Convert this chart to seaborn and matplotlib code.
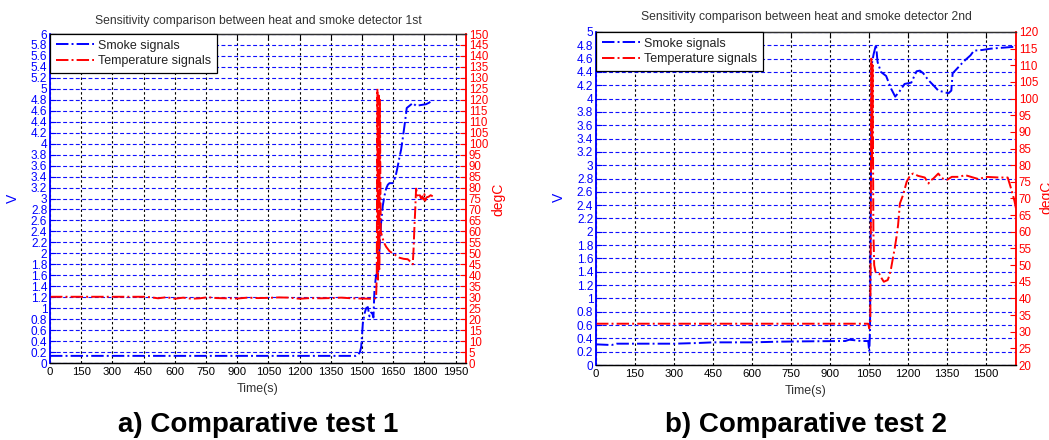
import numpy as np
import pandas as pd
import matplotlib
matplotlib.use("Agg")
import matplotlib.pyplot as plt
from matplotlib import font_manager
from matplotlib.ticker import FuncFormatter, FixedLocator
import seaborn as sns

# ---------------- data: panel a (test 1) ----------------
smoke1_t = [0, 150, 300, 450, 600, 750, 900, 1050, 1200, 1350, 1470, 1482, 1490, 1496,
            1504, 1512, 1520, 1528, 1536, 1544, 1549, 1555, 1560, 1568, 1576, 1584,
            1592, 1600, 1608, 1616, 1624, 1632, 1648, 1656, 1664, 1672, 1680, 1688,
            1696, 1704, 1712, 1715, 1728, 1744, 1760, 1776, 1792, 1808, 1824, 1837]
smoke1_v = [0.13, 0.13, 0.13, 0.13, 0.13, 0.13, 0.13, 0.13, 0.13, 0.13, 0.13, 0.15, 0.2, 0.29,
            0.72, 0.9, 1.0, 1.02, 0.85, 0.92, 0.91, 0.83, 1.34, 1.61, 1.52, 2.07,
            2.56, 2.87, 3.05, 3.18, 3.25, 3.28, 3.28, 3.35, 3.45, 3.59, 3.75, 3.89,
            4.1, 4.32, 4.55, 4.65, 4.69, 4.74, 4.69, 4.7, 4.71, 4.72, 4.75, 4.8]

temp1_t = [0, 150, 300, 450, 480, 520, 560, 600, 640, 680, 720, 760, 800, 850, 900, 950,
           1000, 1050, 1100, 1150, 1200, 1250, 1300, 1350, 1400, 1450, 1500, 1540, 1565,
           1568, 1571, 1574, 1577, 1580, 1583, 1586, 1590, 1596, 1605, 1616, 1632, 1648,
           1664, 1680, 1700, 1720, 1735, 1744, 1748, 1752, 1756, 1760, 1766, 1772, 1778,
           1784, 1790, 1796, 1800, 1804, 1810, 1820, 1830, 1840]
temp1_c = [30.2, 30.2, 30.2, 30.2, 30.0, 29.5, 30.0, 29.3, 29.8, 29.3, 29.5, 30.0, 29.6, 29.5,
           29.4, 29.8, 29.6, 29.7, 29.9, 29.8, 29.3, 29.6, 29.5, 29.6, 29.8, 29.5, 29.4, 29.3,
           29.5, 30.5, 40, 125, 38, 122, 42, 120, 60, 58, 55, 53, 51, 50,
           49, 48, 47.5, 47.3, 46, 45, 52, 62, 70, 79.5, 77, 75.5, 76.5,
           75, 76, 74.5, 77, 74, 75.5, 75.8, 76.5, 76]

# ---------------- data: panel b (test 2) ----------------
smoke2_t = [0, 60, 80, 150, 300, 390, 450, 600, 700, 800, 960, 975, 1000, 1020, 1048, 1052,
            1055, 1058, 1061, 1069, 1078, 1084, 1097, 1117, 1136, 1152, 1169, 1188, 1214,
            1234, 1247, 1260, 1279, 1299, 1318, 1338, 1357, 1368, 1373, 1390, 1409, 1422,
            1442, 1455, 1487, 1520, 1552, 1585, 1617]
smoke2_v = [0.31, 0.30, 0.32, 0.32, 0.32, 0.33, 0.34, 0.34, 0.35, 0.355, 0.36, 0.38, 0.37,
            0.36, 0.36, 0.2, 0.5, 2.5, 4.5, 4.67, 4.81, 4.55, 4.4, 4.34, 4.15, 4.03, 4.11,
            4.22, 4.24, 4.41, 4.42, 4.38, 4.28, 4.2, 4.12, 4.1, 4.08, 4.12, 4.38, 4.45,
            4.53, 4.58, 4.65, 4.72, 4.73, 4.75, 4.76, 4.77, 4.78]

temp2_t = [0, 150, 300, 450, 600, 750, 900, 1040, 1048, 1052, 1056, 1058, 1060, 1063, 1065,
           1068, 1071, 1076, 1090, 1100, 1108, 1123, 1130, 1136, 1144, 1150, 1157, 1163,
           1170, 1182, 1196, 1210, 1221, 1240, 1266, 1280, 1286, 1299, 1318, 1331, 1351,
           1370, 1396, 1422, 1474, 1500, 1552, 1585, 1598, 1611, 1617]
temp2_c = [32.4, 32.4, 32.4, 32.4, 32.4, 32.4, 32.4, 32.4, 32.4, 31, 33, 60, 112, 80, 110,
           60, 50, 48, 47.5, 46, 45, 45.5, 47, 49, 52.5, 55, 58.5, 62,
           68.5, 71, 75, 77, 77.5, 76.8, 76.3, 74.5, 75.3, 76, 77.5, 76.1, 75.6,
           76.5, 76.5, 77, 75.8, 76.5, 76.3, 76.3, 73, 69.3, 67]

# ---------------- text ----------------
titles = ["Sensitivity comparison between heat and smoke detector 1st",
          "Sensitivity comparison between heat and smoke detector 2nd"]
captions = ["a) Comparative test 1", "b) Comparative test 2"]
legend_labels = ["Smoke signals", "Temperature signals"]
xlabel_text = "Time(s)"
ylabel_left = "V"
ylabel_right = "degC"

xticks1 = list(range(0, 1951, 150))
yticks1_left = [round(v * 0.2, 1) for v in range(0, 31)]
yticks1_right = list(range(0, 151, 5))
xticks2 = list(range(0, 1501, 150))
yticks2_left = [round(v * 0.2, 1) for v in range(0, 26)]
yticks2_right = list(range(20, 121, 5))

# ---------------- style ----------------
sns.set_style("white")
plt.rcParams['font.family'] = ['Liberation Sans', 'DejaVu Sans']

W, H = 1049, 440
fig = plt.figure(figsize=(W / 100, H / 100), dpi=100)


def rect(l, t, r, b):
    return [l / W, 1 - b / H, (r - l) / W, (b - t) / H]


fmt = FuncFormatter(lambda v, p: "%g" % round(v, 2))


def panel(box, st, sv, tt, tc, xlim, xt, yl1, yt1, yl2, yt2,
          title, title_y, caption, v_xy, deg_xy, time_y):
    l, t, r, b = box
    ax1 = fig.add_axes(rect(l, t, r, b))
    ax2 = ax1.twinx()
    sns.lineplot(x=st, y=sv, ax=ax1, color="blue", linewidth=1.4, linestyle="-.",
                 sort=False, estimator=None, legend=False, label=legend_labels[0])
    sns.lineplot(x=tt, y=tc, ax=ax2, color="red", linewidth=1.4, linestyle="-.",
                 sort=False, estimator=None, legend=False, label=legend_labels[1])
    ax1.set_xlim(*xlim)
    ax1.set_ylim(*yl1)
    ax2.set_ylim(*yl2)
    ax1.xaxis.set_major_locator(FixedLocator(xt))
    ax1.yaxis.set_major_locator(FixedLocator(yt1))
    ax2.yaxis.set_major_locator(FixedLocator(yt2))
    for a in (ax1, ax2):
        a.yaxis.set_major_formatter(fmt)
        a.set_xlabel("")
        a.set_ylabel("")
    ax1.xaxis.set_major_formatter(fmt)
    ax1.set_axisbelow(True)
    ax1.grid(True, axis="y", color="#1010ff", linestyle=(0, (3.5, 2.2)), linewidth=0.8)
    ax1.grid(True, axis="x", color="black", linestyle=(0, (2.2, 2.2)), linewidth=0.8)
    ax1.tick_params(axis="x", direction="in", length=4, width=0.8, top=True, colors="black",
                    labelsize=8.2, pad=3)
    ax1.tick_params(axis="y", direction="in", length=4, width=0.8, colors="blue",
                    labelsize=8.5, pad=2)
    ax2.tick_params(axis="y", direction="in", length=4, width=0.8, colors="red",
                    labelsize=8.3, pad=2)
    for a in (ax1, ax2):
        a.spines["left"].set_color("blue")
        a.spines["right"].set_color("red")
        a.spines["top"].set_color("#303030")
        a.spines["bottom"].set_color("black")
        for s in a.spines.values():
            s.set_linewidth(0.9)
        a.spines["right"].set_linewidth(1.1)
        a.spines["left"].set_linewidth(1.1)
    handles = [ax1.get_lines()[0], ax2.get_lines()[0]]
    leg = ax2.legend(handles, legend_labels, loc="upper left", bbox_to_anchor=(0, 1),
                     borderaxespad=0, fancybox=False, framealpha=1, edgecolor="black",
                     fontsize=9, handlelength=3.1, handletextpad=0.3, borderpad=0.45,
                     labelspacing=0.3)
    leg.get_frame().set_linewidth(0.9)
    for txt in leg.get_texts():
        txt.set_color("#222222")
    cx = (l + r) / 2
    fig.text(cx / W, 1 - title_y / H, title, ha="center", va="center", fontsize=8.7,
             color="#333333")
    fig.text(cx / W, 1 - time_y / H, xlabel_text, ha="center", va="center", fontsize=9,
             color="#333333")
    fig.text(v_xy[0] / W, 1 - v_xy[1] / H, ylabel_left, ha="center", va="center",
             rotation=90, fontsize=10, color="blue")
    fig.text(deg_xy[0] / W, 1 - deg_xy[1] / H, ylabel_right, ha="center", va="center",
             rotation=90, fontsize=10, color="red")
    fig.text(cx / W, 1 - 432 / H, caption, ha="center", va="baseline", fontsize=20,
             fontweight="bold", color="black")


panel((50, 34, 466, 363), smoke1_t, smoke1_v, temp1_t, temp1_c, (0, 2000), xticks1,
      (0, 6), yticks1_left, (0, 150), yticks1_right, titles[0], 20.7, captions[0],
      (13, 198), (498, 199), 389)
panel((596, 32, 1016, 365), smoke2_t, smoke2_v, temp2_t, temp2_c, (0, 1617), xticks2,
      (0, 5), yticks2_left, (20, 120), yticks2_right, titles[1], 16.9, captions[1],
      (559, 197), (1046, 197), 391)

fig.savefig("out.png", dpi=100)
